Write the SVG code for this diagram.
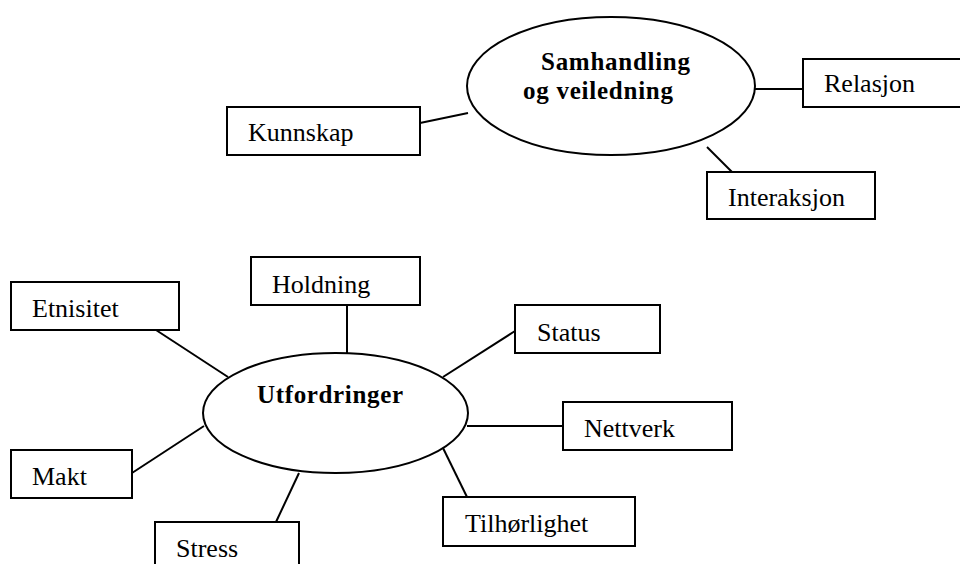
<svg xmlns="http://www.w3.org/2000/svg" width="960" height="564" viewBox="0 0 960 564">
<style>
.box{fill:#fff;stroke:#000;stroke-width:2}
.ell{fill:#fff;stroke:#000;stroke-width:2}
.lbl{font-family:"Liberation Serif","Times New Roman",serif;font-size:26px;fill:#000}
.hd{font-family:"Liberation Serif","Times New Roman",serif;font-size:25px;font-weight:bold;fill:#000}
.con line{stroke:#000;stroke-width:2}
</style>
<rect width="960" height="564" fill="#fff"/>
<g class="con" id="connectors">
<line x1="420" y1="123" x2="468" y2="113"/>
<line x1="755" y1="89" x2="803" y2="89"/>
<line x1="707" y1="147" x2="732" y2="172"/>
<line x1="347" y1="305" x2="347" y2="353"/>
<line x1="156" y1="330" x2="228" y2="377"/>
<line x1="132" y1="473" x2="204" y2="426"/>
<line x1="276" y1="522" x2="299" y2="473"/>
<line x1="443" y1="377" x2="515" y2="331"/>
<line x1="467" y1="426" x2="563" y2="426"/>
<line x1="443" y1="448" x2="467" y2="497"/>
</g>
<g id="samhandling">
<ellipse class="ell" cx="611" cy="86" rx="144" ry="69"/>
<text class="hd" x="541" y="70" textLength="149">Samhandling</text>
<text class="hd" x="523" y="99" textLength="150">og veiledning</text>
</g>
<g id="kunnskap">
<rect class="box" x="227" y="107" width="193" height="48"/>
<text class="lbl" x="248" y="141">Kunnskap</text>
</g>
<g id="relasjon">
<rect class="box" x="803" y="59" width="158" height="48"/>
<text class="lbl" x="824" y="92">Relasjon</text>
</g>
<g id="interaksjon">
<rect class="box" x="707" y="172" width="168" height="47"/>
<text class="lbl" x="728" y="206">Interaksjon</text>
</g>
<g id="utfordringer">
<ellipse class="ell" cx="335.5" cy="413" rx="132.5" ry="60"/>
<text class="hd" x="257" y="403" textLength="146">Utfordringer</text>
</g>
<g id="holdning">
<rect class="box" x="251" y="257" width="169" height="48"/>
<text class="lbl" x="272" y="293">Holdning</text>
</g>
<g id="etnisitet">
<rect class="box" x="11" y="282" width="168" height="48"/>
<text class="lbl" x="32" y="317">Etnisitet</text>
</g>
<g id="status">
<rect class="box" x="515" y="305" width="145" height="48"/>
<text class="lbl" x="537" y="341">Status</text>
</g>
<g id="nettverk">
<rect class="box" x="563" y="402" width="169" height="48"/>
<text class="lbl" x="584" y="437">Nettverk</text>
</g>
<g id="makt">
<rect class="box" x="11" y="450" width="121" height="48"/>
<text class="lbl" x="32" y="485">Makt</text>
</g>
<g id="tilhorlighet">
<rect class="box" x="443" y="497" width="192" height="49"/>
<text class="lbl" x="465" y="532">Tilhørlighet</text>
</g>
<g id="stress">
<rect class="box" x="155" y="522" width="144" height="48"/>
<text class="lbl" x="176" y="557">Stress</text>
</g>
</svg>
